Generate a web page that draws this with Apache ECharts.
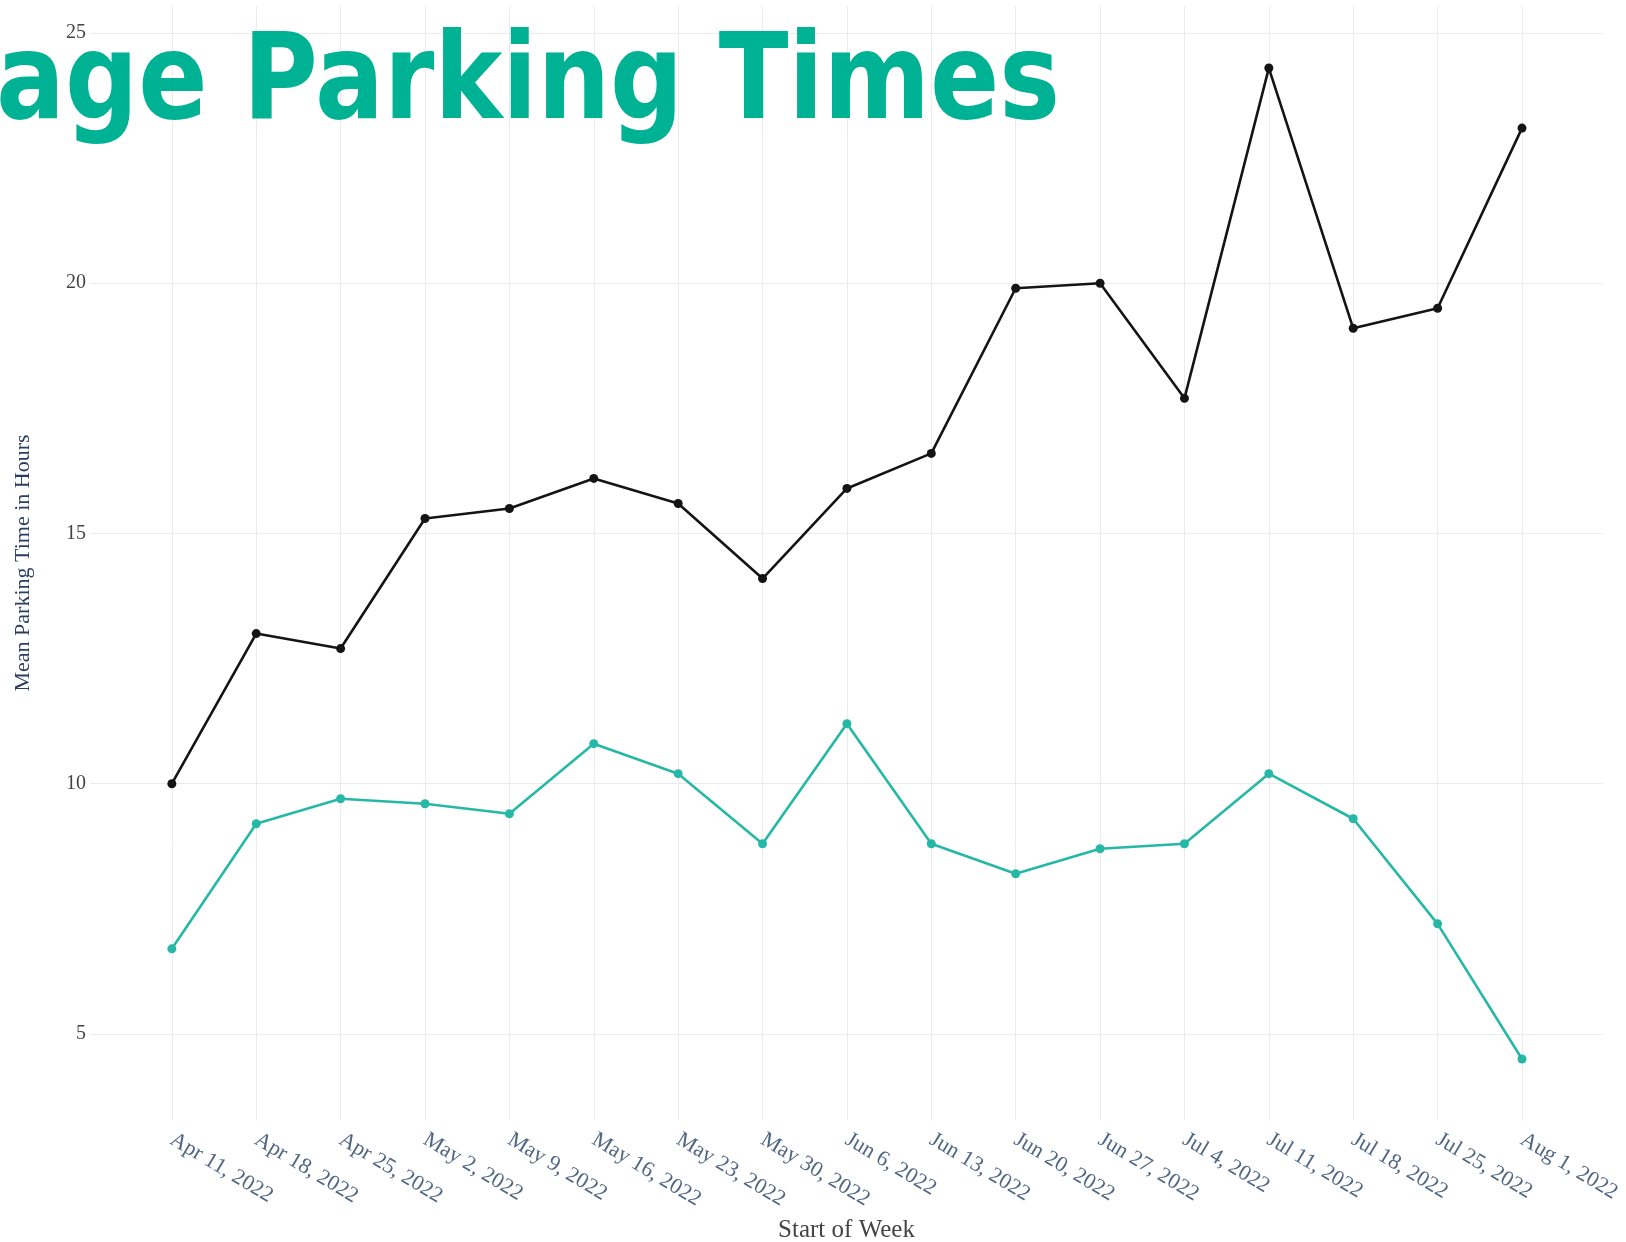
<!DOCTYPE html>
<html>
<head>
<meta charset="utf-8">
<script src="https://cdn.jsdelivr.net/npm/echarts@6/dist/echarts.min.js"></script>
<style>
html,body{margin:0;padding:0;background:#fff;}
#chart{width:1626px;height:1242px;}
</style>
</head>
<body>
<div id="chart"></div>
<script>
const weeks = ['Apr 11, 2022','Apr 18, 2022','Apr 25, 2022','May 2, 2022','May 9, 2022','May 16, 2022','May 23, 2022','May 30, 2022','Jun 6, 2022','Jun 13, 2022','Jun 20, 2022','Jun 27, 2022','Jul 4, 2022','Jul 11, 2022','Jul 18, 2022','Jul 25, 2022','Aug 1, 2022'];
const seriesBlack = [10.0, 13.0, 12.7, 15.3, 15.5, 16.1, 15.6, 14.1, 15.9, 16.6, 19.9, 20.0, 17.7, 24.3, 19.1, 19.5, 23.1];
const seriesTeal  = [6.7, 9.2, 9.7, 9.6, 9.4, 10.8, 10.2, 8.8, 11.2, 8.8, 8.2, 8.7, 8.8, 10.2, 9.3, 7.2, 4.5];
const yTicks = [5, 10, 15, 20, 25];
const titleText = 'Average Parking Times';
const yTitle = 'Mean Parking Time in Hours';
const xTitle = 'Start of Week';

const xIdx = weeks.map((w, i) => i);
const serif = '"Liberation Serif", "Times New Roman", serif';

// title width fitting (style only)
const titleFont = 'bold 120px "DejaVu Sans"';
const cv = document.createElement('canvas').getContext('2d');
cv.font = titleFont;
const partW = cv.measureText('Parking Times').width;
const titleScaleX = 817 / partW;

const chart = echarts.init(document.getElementById('chart'), null, {renderer: 'canvas'});
chart.setOption({
  backgroundColor: '#ffffff',
  animation: false,
  grid: {left: 90, right: 23, top: 6, bottom: 122, containLabel: false, outerBoundsMode: 'none'},
  xAxis: {
    type: 'value',
    min: -0.97,
    max: 16.96,
    name: xTitle,
    nameLocation: 'middle',
    nameGap: 98,
    nameMoveOverlap: false,
    nameTextStyle: {fontFamily: serif, fontSize: 25, color: '#444444'},
    axisLine: {show: false},
    axisTick: {show: false, customValues: xIdx},
    axisLabel: {
      customValues: xIdx,
      formatter: v => weeks[Math.round(v)],
      rotate: -31,
      margin: 18,
      hideOverlap: false,
      fontFamily: serif,
      fontSize: 22,
      color: '#506784'
    },
    splitLine: {show: true, lineStyle: {color: '#ebebeb', width: 1}}
  },
  yAxis: {
    type: 'value',
    min: 3.28,
    max: 25.54,
    name: yTitle,
    nameLocation: 'middle',
    nameGap: 56,
    nameRotate: 90,
    nameMoveOverlap: false,
    nameTextStyle: {fontFamily: serif, fontSize: 22, color: '#2a3f5f'},
    axisLine: {show: false},
    axisTick: {show: false, customValues: yTicks},
    axisLabel: {
      customValues: yTicks,
      margin: 4,
      fontFamily: serif,
      fontSize: 20,
      color: '#444444'
    },
    splitLine: {show: true, lineStyle: {color: '#ebebeb', width: 1}}
  },
  series: [
    {
      name: 'Mean parking time (black)',
      type: 'line',
      data: xIdx.map(i => [i, seriesBlack[i]]),
      symbol: 'circle',
      symbolSize: 9,
      lineStyle: {color: '#141414', width: 2.6},
      itemStyle: {color: '#141414'},
      z: 3
    },
    {
      name: 'Mean parking time (teal)',
      type: 'line',
      data: xIdx.map(i => [i, seriesTeal[i]]),
      symbol: 'circle',
      symbolSize: 9,
      lineStyle: {color: '#26b8a6', width: 2.6},
      itemStyle: {color: '#26b8a6'},
      z: 3
    }
  ],
  graphic: [
    {
      type: 'text',
      x: 1060,
      y: 27,
      scaleX: titleScaleX,
      z: 10,
      style: {
        text: titleText,
        font: titleFont,
        fill: '#00b294',
        textAlign: 'right',
        textVerticalAlign: 'top'
      }
    }
  ]
});
</script>
</body>
</html>
